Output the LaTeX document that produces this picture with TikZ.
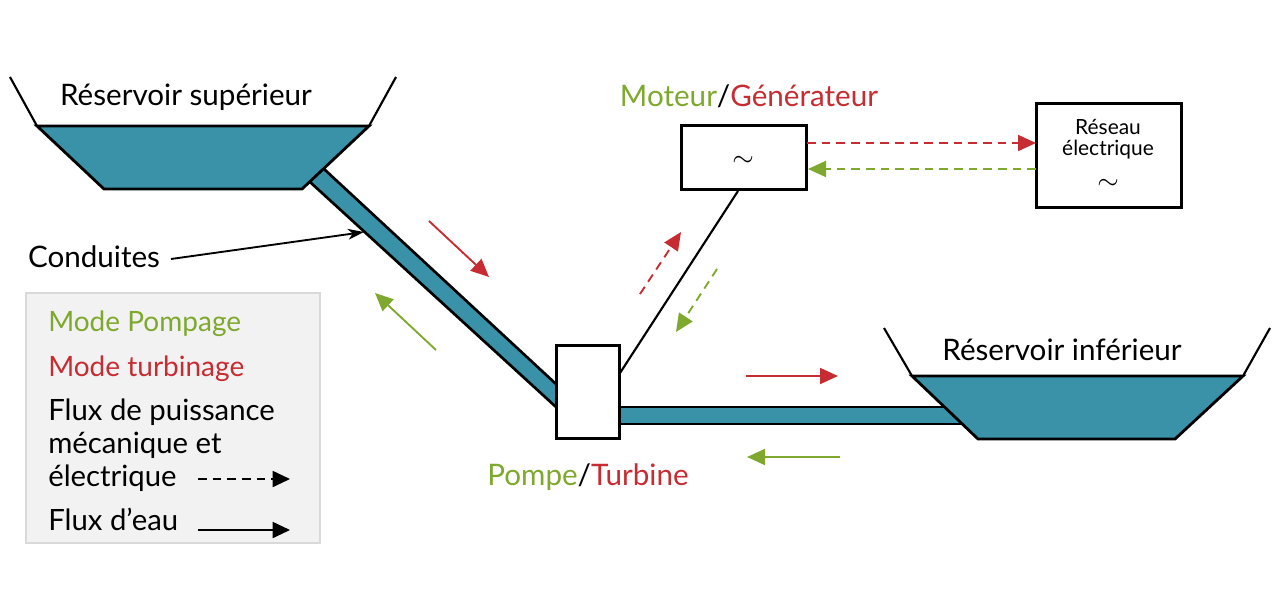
\documentclass[tikz,border=0pt]{standalone}
\usepackage{fontspec}
\setmainfont{Lato}
\usetikzlibrary{arrows.meta}
\definecolor{water}{HTML}{3A92A9}
\definecolor{modeG}{HTML}{7FA82E}
\definecolor{modeR}{HTML}{C62C32}
\definecolor{legfill}{HTML}{F2F2F2}
\definecolor{legline}{HTML}{D9D9D9}
\tikzset{
  x=0.75pt,y=-0.75pt,
  tank/.style={fill=water,draw=black,line width=2.1pt,line join=miter},
  wall/.style={draw=black,line width=1.6pt},
  pipeedge/.style={draw=black,line width=2pt},
  boxnode/.style={draw=black,fill=white,line width=2.2pt,inner sep=0pt},
  bigtext/.style={font=\fontsize{22.2pt}{26pt}\selectfont,inner sep=0pt},
  legtext/.style={font=\fontsize{22pt}{26pt}\selectfont,inner sep=0pt,anchor=base west},
  legmode/.style={font=\fontsize{21pt}{26pt}\selectfont,inner sep=0pt,anchor=base west},
  smalltext/.style={font=\fontsize{15.7pt}{19pt}\selectfont,inner sep=0pt},
  tildetext/.style={font=\fontsize{21pt}{21pt}\selectfont,inner sep=0pt},
  flow/.style={line width=1.4pt,-{Triangle[length=13.5pt,width=12pt]}},
  power/.style={flow,dash pattern=on 6.5pt off 4.5pt},
}
\begin{document}
\begin{tikzpicture}
\useasboundingbox (0,0) rectangle (1276,600);
% upper reservoir
\coordinate (ua) at (37,126); \coordinate (ub) at (369,126);
\coordinate (uc) at (302,189); \coordinate (ud) at (104,189);
\coordinate (uwl) at (10,77); \coordinate (uwr) at (396,77);
% lower reservoir
\coordinate (la) at (912,376); \coordinate (lb) at (1243,376);
\coordinate (lc) at (1175,439); \coordinate (ld) at (978,439);
\coordinate (lwl) at (884,328); \coordinate (lwr) at (1270,328);
% pipes
\coordinate (p1a) at (324,169); \coordinate (p1b) at (556,384);
\coordinate (p1c) at (556,407); \coordinate (p1d) at (310,182);
\coordinate (p2a) at (620,407); \coordinate (p2b) at (950,407);
\coordinate (p2c) at (968,424); \coordinate (p2d) at (620,424);
\fill[water] (p1a) -- (p1b) -- (p1c) -- (p1d) -- cycle;
\draw[pipeedge] (p1a) -- (p1b) (p1d) -- (p1c);
\fill[water] (p2a) -- (p2b) -- (p2c) -- (p2d) -- cycle;
\draw[pipeedge] (p2a) -- (p2b) (p2d) -- (p2c);
\draw[tank] (ua) -- (ub) -- (uc) -- (ud) -- cycle;
\draw[tank] (la) -- (lb) -- (lc) -- (ld) -- cycle;
\draw[wall] (uwl) -- (ua) (uwr) -- (ub) (lwl) -- (la) (lwr) -- (lb);
% boxes
\node[boxnode,minimum width=47.2pt,minimum height=70pt] (pump) at (588,392) {};
\node[boxnode,minimum width=93.7pt,minimum height=47.7pt] (motor) at (744,157.5) {};
\node[boxnode,minimum width=108.7pt,minimum height=77.5pt] (grid) at (1109,155.5) {};
\coordinate (shaftA) at (620,373); \coordinate (shaftB) at (738,191);
\draw[line width=1.6pt] (shaftA) -- (shaftB);
\node[tildetext] (tm) at (743,161) {$\sim$};
\node[tildetext] (tg) at (1108,184) {$\sim$};
\node[smalltext] (r1) at (1108,127) {Réseau};
\node[smalltext] (r2) at (1108,150) {électrique};
% labels
\node[bigtext] (upl) at (186,97) {Réservoir supérieur};
\node[bigtext] (lol) at (1062,350) {Réservoir inférieur};
\node[bigtext] (cond) at (94,257) {Conduites};
\node[bigtext] (mg) at (749,96) {\textcolor{modeG}{Moteur}/\textcolor{modeR}{Générateur}};
\node[bigtext] (pt) at (588,477) {\textcolor{modeG}{Pompe}/\textcolor{modeR}{Turbine}};
% conduites arrow
\coordinate (cs) at (171,259); \coordinate (ce) at (364,232);
\draw[line width=1.4pt,-{Stealth[length=12pt,width=8pt,inset=3.5pt]}] (cs) -- (ce);
% flows
\coordinate (f1a) at (807,143); \coordinate (f1b) at (1036,143);
\draw[power,modeR] (f1a) -- (f1b);
\coordinate (f2a) at (1036,169); \coordinate (f2b) at (808,169);
\draw[power,modeG] (f2a) -- (f2b);
\coordinate (f3a) at (640,294); \coordinate (f3b) at (681,232);
\draw[power,modeR] (f3a) -- (f3b);
\coordinate (f4a) at (717,269); \coordinate (f4b) at (676,332);
\draw[power,modeG] (f4a) -- (f4b);
\coordinate (f5a) at (429,221); \coordinate (f5b) at (489,277);
\draw[flow,modeR] (f5a) -- (f5b);
\coordinate (f6a) at (436,350); \coordinate (f6b) at (375,293);
\draw[flow,modeG] (f6a) -- (f6b);
\coordinate (f7a) at (746,376); \coordinate (f7b) at (838,376);
\draw[flow,modeR] (f7a) -- (f7b);
\coordinate (f8a) at (840,457); \coordinate (f8b) at (747,457);
\draw[flow,modeG] (f8a) -- (f8b);
% legend
\node[draw=legline,fill=legfill,line width=1.5pt,minimum width=220.5pt,minimum height=187.5pt,inner sep=0pt] (leg) at (173,418) {};
\node[legmode,text=modeG] (l1) at (48,331) {Mode Pompage};
\node[legmode,text=modeR] (l2) at (48,376) {Mode turbinage};
\node[legtext] (l3) at (48,420) {Flux de puissance};
\node[legtext] (l4) at (48,453) {mécanique et};
\node[legtext] (l5) at (48,486) {électrique};
\node[legtext] (l6) at (48,530) {Flux d’eau};
\coordinate (la1) at (198,479); \coordinate (la2) at (290,479);
\draw[line width=1.4pt,dash pattern=on 6.5pt off 4.5pt,-{Triangle[length=13pt,width=12pt]}] (la1) -- (la2);
\coordinate (lb1) at (198,530); \coordinate (lb2) at (290,530);
\draw[line width=1.4pt,-{Triangle[length=13pt,width=12pt]}] (lb1) -- (lb2);
\end{tikzpicture}
\end{document}
